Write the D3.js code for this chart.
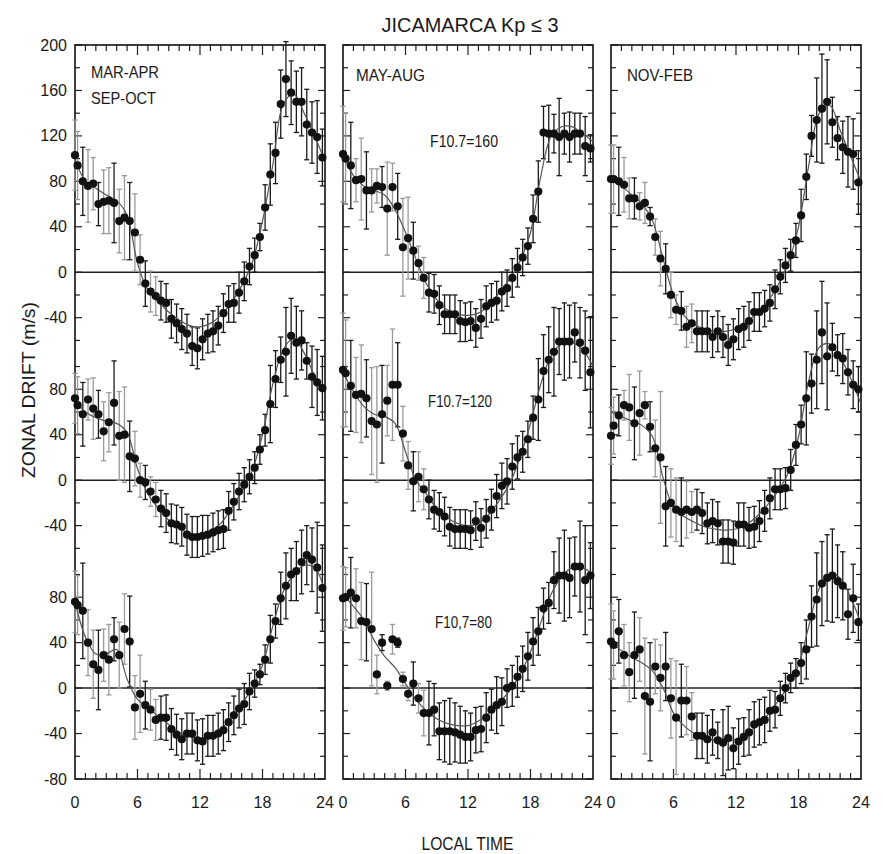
<!DOCTYPE html>
<html><head><meta charset="utf-8">
<script src="https://cdn.jsdelivr.net/npm/d3@7"></script>
<style>
body{margin:0;background:#fff}
text{font-family:"Liberation Sans",Arial,Helvetica,sans-serif;fill:#1a1a1a}
</style>
</head><body><svg id="c" width="883" height="854"></svg>
<script>
// ---------------- DATA ----------------
const hours = [0,0.25,0.75,1.25,1.75,2.25,2.75,3.25,3.75,4.25,4.75,5.25,5.75,6.25,6.75,7.25,7.75,8.25,8.75,9.25,9.75,10.25,10.75,11.25,11.75,12.25,12.75,13.25,13.75,14.25,14.75,15.25,15.75,16.25,16.75,17.25,17.75,18.25,18.75,19.25,19.75,20.25,20.75,21.25,21.75,22.25,22.75,23.25,23.75];
const fitHours = [0,1,2,3,4,5,6,7,8,9,10,11,12,13,14,15,16,17,18,19,20,21,22,23,24];
const seasons = ["MAR-APR","MAY-AUG","NOV-FEB"];
const fluxLabels = ["F10.7=160","F10.7=120","F10,7=80"];
const xTickLabels = [0,6,12,18,24];
const yTickLabelsRow = [[200,160,120,80,40,0,-40],[80,40,0,-40],[80,40,0,-40,-80]];

// MAR-APR / SEP-OCT
const marApr160 = [103,94,80,76,78,60,62,63,61, 45,48,45,35,11,-10,-17,-21, -25,-27,-41,-45,-50,-54,-65,-67, -59,-54,-52,-47,-36,-28,-27,-18, -8,5,15,31,57,86,105,148, 170,158,150,150,130,123,119,101];
const marApr160Err = [31,30,30,32,23,19,28,29,35, 28,37,34,34,22,20,18,17, 17,17,17,17,18,17,17,18, 18,17,18,17,17,16,17,18, 17,16,15,12,20,27,27,30, 33,28,27,30,31,27,32,25];
const marApr160Fit = [100,80,74,68,63,50,8,-16,-26,-35,-42,-47,-48,-45,-38,-27,-12,8,45,95,148,157,140,120,98];

const marApr120 = [72,66,58,71,63,58,43,51,68, 39,40,21,19,0,-2,-10,-17, -25,-29,-38,-39,-41,-48,-50,-50, -49,-48,-46,-44,-43,-27,-19,-10, -4,3,11,27,44,67,89,106, 113,127,121,123,105,91,86,81];
const marApr120Err = [22,25,28,18,27,21,26,26,37, 39,42,31,24,15,15,13,15, 16,17,17,17,17,18,18,18, 18,17,17,17,17,17,16,16, 15,15,14,13,14,34,25,20, 39,33,32,26,16,27,29,28];
const marApr120Fit = [70,60,55,52,50,42,10,-12,-25,-35,-42,-47,-48,-45,-38,-25,-10,8,40,85,115,125,112,92,78];

const marApr80 = [76,73,68,40,21,16,29,25,43, 29,52,41,-17,-5,-15,-19,-28, -26,-26,-36,-41,-45,-40,-40,-46, -47,-42,-42,-40,-37,-30,-24,-18, -14,-3,4,12,25,43,59,79, 90,100,103,111,117,113,106,88];
const marApr80Err = [27,26,42,29,30,35,23,31,19, 29,31,40,28,34,21,18,18, 19,20,18,18,18,18,18,18, 20,18,18,18,18,17,17,17, 18,16,12,9,13,21,15,23, 29,23,26,28,26,28,40,38];
const marApr80Fit = [76,45,30,30,34,8,-10,-17,-25,-32,-39,-43,-44,-42,-36,-26,-14,0,20,55,85,100,108,106,85];

// MAY-AUG
const mayAug160 = [104,100,94,81,82,72,72,76,75, 56,75,58,22,30,19,8,-5, -18,-19,-29,-37,-37,-37,-43,-44, -43,-49,-41,-30,-27,-25,-17,-14, -5,4,13,23,47,71,123,122, 122,119,122,119,122,122,111,109];
const mayAug160Err = [42,40,38,19,36,34,19,15,18, 41,21,29,43,36,25,15,18, 17,17,17,17,17,17,18,17, 17,17,17,18,17,17,17,16, 17,17,16,16,21,27,23,25, 17,34,18,22,18,18,26,12];
const mayAug160Fit = [104,85,76,72,68,55,35,12,-10,-24,-33,-37,-38,-36,-29,-18,-6,10,35,85,120,128,128,122,115];

const mayAug120 = [97,94,83,75,76,72,52,49,58, 70,84,84,41,13,-1,3,-8, -17,-26,-28,-32,-41,-43,-43,-43, -44,-36,-42,-34,-26,-14,-5,-1, 12,20,25,36,55,71,96,106, 113,122,122,122,130,121,114,95];
const mayAug120Err = [50,47,40,33,43,34,47,51,43, 31,49,37,24,21,26,22,18, 17,17,17,17,17,17,17,17, 17,17,17,17,18,19,20,20, 20,19,18,16,19,36,32,29, 39,29,34,32,26,31,35,49];
const mayAug120Fit = [95,78,65,58,56,50,25,0,-12,-25,-33,-38,-40,-38,-30,-18,-3,20,50,85,110,120,121,115,100];

const mayAug80 = [79,80,84,79,59,58,52,12,40, 2,43,40,8,-5,4,-9,-22, -22,-19,-38,-38,-38,-39,-41,-43, -43,-37,-36,-26,-19,-15,-12,0, 2,10,17,28,41,50,70,75, 95,99,99,97,107,107,95,99];
const mayAug80Err = [28,26,31,26,34,34,50,17,7, 4,13,4,6,6,19,13,20, 28,23,25,27,29,26,25,23, 21,20,20,22,18,25,21,17, 18,18,20,21,21,21,18,18, 25,33,40,35,26,40,48,29];
const mayAug80Fit = [82,72,60,42,28,18,4,-10,-20,-27,-31,-33,-33,-29,-22,-13,-2,12,32,58,83,98,106,106,100];

// NOV-FEB
const novFeb160 = [82,82,80,77,65,65,58,61,49, 31,12,3,-20,-33,-34,-48,-45, -52,-52,-52,-57,-52,-57,-64,-59, -50,-48,-43,-35,-35,-32,-27,-15, -4,6,15,28,50,84,120,134, 144,150,132,118,110,106,104,79];
const novFeb160Err = [30,30,30,24,18,18,12,18,8, 16,24,22,20,13,17,18,17, 18,18,18,18,18,18,18,18, 18,18,17,17,17,16,16,17, 15,15,14,15,23,20,18,37, 48,37,22,19,23,31,31,28];
const novFeb160Fit = [82,76,68,60,45,12,-20,-38,-46,-50,-52,-52,-50,-44,-36,-26,-12,8,40,95,140,147,125,102,80];

const novFeb120 = [39,48,57,66,64,50,59,66,47, 28,20,-23,-20,-26,-28,-26,-28, -26,-29,-38,-36,-38,-54,-54,-55, -39,-39,-42,-41,-36,-27,-16,-8, -8,-7,9,31,49,72,85,106, 130,109,117,110,107,95,84,80];
const novFeb120Err = [25,25,18,13,29,32,37,12,22, 25,58,35,30,28,30,25,18, 18,18,18,19,19,19,19,19, 19,19,18,18,18,18,18,18, 18,18,18,18,17,41,26,43, 45,47,21,18,22,20,21,20];
const novFeb120Fit = [60,56,52,48,38,2,-24,-32,-37,-41,-43,-44,-43,-39,-32,-22,-10,6,38,88,117,120,108,90,67];

const novFeb80 = [41,38,50,29,14,29,34,-7,-12, 19,9,19,-9,-26,-11,-11,-25, -42,-42,-45,-39,-46,-48,-44,-53, -47,-43,-39,-32,-30,-28,-20,-19, -9,0,9,13,22,34,63,78, 92,97,99,94,90,65,79,58];
const novFeb80Err = [33,30,28,27,26,38,28,51,52, 24,29,30,35,50,32,30,21, 20,20,21,20,16,29,28,18, 20,17,20,20,20,20,18,16, 15,13,13,13,18,26,27,41, 37,38,41,32,30,22,30,16];
const novFeb80Fit = [40,33,27,22,15,0,-22,-33,-40,-44,-46,-47,-45,-40,-33,-24,-12,2,20,55,88,100,97,80,57];

const series = [
  {p:0,r:0,v:marApr160,e:marApr160Err,f:marApr160Fit},
  {p:0,r:1,v:marApr120,e:marApr120Err,f:marApr120Fit},
  {p:0,r:2,v:marApr80,e:marApr80Err,f:marApr80Fit},
  {p:1,r:0,v:mayAug160,e:mayAug160Err,f:mayAug160Fit},
  {p:1,r:1,v:mayAug120,e:mayAug120Err,f:mayAug120Fit},
  {p:1,r:2,v:mayAug80,e:mayAug80Err,f:mayAug80Fit},
  {p:2,r:0,v:novFeb160,e:novFeb160Err,f:novFeb160Fit},
  {p:2,r:1,v:novFeb120,e:novFeb120Err,f:novFeb120Fit},
  {p:2,r:2,v:novFeb80,e:novFeb80Err,f:novFeb80Fit}
];

// ---------------- LAYOUT ----------------
const svg = d3.select("#c");
const panelLeft = [75, 343, 611];
const panelW = 250;
const topY = 45, bottomY = 779;
const SHIFT = 183; // vertical offset between stacked rows (m/s)
const y = d3.scaleLinear().domain([-80 - 2*SHIFT, 200]).range([bottomY, topY]);
const yr = (r, v) => y(v - r*SHIFT);
const xs = panelLeft.map(l => d3.scaleLinear().domain([0,24]).range([l, l+panelW]));

panelLeft.forEach((l, p) => {
  const g = svg.append("g");
  const x = xs[p];
  [0,1,2].forEach(r => {
    g.append("line").attr("x1", l).attr("x2", l+panelW)
      .attr("y1", yr(r,0)).attr("y2", yr(r,0))
      .attr("stroke","#222").attr("stroke-width",1.5);
  });
  d3.range(1,24).forEach(h => {
    const len = (h % 6 === 0) ? 10 : 6;
    g.append("line").attr("x1", x(h)).attr("x2", x(h)).attr("y1", bottomY).attr("y2", bottomY-len).attr("stroke","#222").attr("stroke-width",1.2);
    g.append("line").attr("x1", x(h)).attr("x2", x(h)).attr("y1", topY).attr("y2", topY+len).attr("stroke","#222").attr("stroke-width",1.2);
  });
  const ranges = [[-60,200],[-60,100],[-80,100]];
  ranges.forEach((rg, r) => {
    for (let v = rg[0]; v <= rg[1]; v += 20) {
      const major = yTickLabelsRow[r].includes(v);
      const len = major ? 7 : 5;
      const yy = yr(r, v);
      g.append("line").attr("x1", l).attr("x2", l+len).attr("y1", yy).attr("y2", yy).attr("stroke","#222").attr("stroke-width",1.2);
      g.append("line").attr("x1", l+panelW).attr("x2", l+panelW-len).attr("y1", yy).attr("y2", yy).attr("stroke","#222").attr("stroke-width",1.2);
    }
  });
  g.append("rect").attr("x", l).attr("y", topY).attr("width", panelW).attr("height", bottomY-topY)
    .attr("fill","none").attr("stroke","#111").attr("stroke-width",1.6);
  xTickLabels.forEach(t => {
    svg.append("text").attr("x", x(t)).attr("y", 808).attr("text-anchor","middle")
      .attr("font-size",16).text(t);
  });
});

yTickLabelsRow.forEach((labs, r) => {
  labs.forEach(v => {
    svg.append("text").attr("x", 67).attr("y", yr(r, v) + 5.5).attr("text-anchor","end")
      .attr("font-size",16).text(v);
  });
});

const line = d3.line().curve(d3.curveCatmullRom.alpha(0.5));
series.forEach(s => {
  const x = xs[s.p];
  const g = svg.append("g");
  hours.forEach((h, i) => {
    const gray = h < 8 && i % 3 !== 2;
    const col = gray ? "#9a9a9a" : "#1a1a1a";
    const y1 = yr(s.r, s.v[i] + s.e[i]), y2 = yr(s.r, s.v[i] - s.e[i]);
    const xx = x(h);
    g.append("line").attr("x1", xx).attr("x2", xx).attr("y1", y1).attr("y2", y2).attr("stroke", col).attr("stroke-width",1.3);
    g.append("line").attr("x1", xx-2.6).attr("x2", xx+2.6).attr("y1", y1).attr("y2", y1).attr("stroke", col).attr("stroke-width",1.3);
    g.append("line").attr("x1", xx-2.6).attr("x2", xx+2.6).attr("y1", y2).attr("y2", y2).attr("stroke", col).attr("stroke-width",1.3);
  });
  g.append("path").attr("d", line(fitHours.map((h,i) => [x(h), yr(s.r, s.f[i])])))
    .attr("fill","none").attr("stroke","#555").attr("stroke-width",1.2);
  g.selectAll("circle").data(hours).join("circle")
    .attr("cx", h => x(h)).attr("cy", (h,i) => yr(s.r, s.v[i])).attr("r", 4.1).attr("fill","#111");
});

svg.append("text").attr("x", 470).attr("y", 32).attr("text-anchor","middle").attr("font-size",21)
  .attr("textLength",177).attr("lengthAdjust","spacingAndGlyphs").text("JICAMARCA  Kp \u2264 3");
svg.append("text").attr("transform","translate(35,390) rotate(-90)").attr("text-anchor","middle")
  .attr("font-size",17.5).attr("textLength",176).attr("lengthAdjust","spacingAndGlyphs").text("ZONAL DRIFT (m/s)");
svg.append("text").attr("x", 467.5).attr("y", 850).attr("text-anchor","middle").attr("font-size",18)
  .attr("textLength",92).attr("lengthAdjust","spacingAndGlyphs").text("LOCAL TIME");

const seasonPos = [[91,78,68],[356,80.5,69],[627,80.5,66]];
seasons.forEach((s,i) => {
  svg.append("text").attr("x", seasonPos[i][0]).attr("y", seasonPos[i][1]).attr("font-size",17)
    .attr("textLength",seasonPos[i][2]).attr("lengthAdjust","spacingAndGlyphs").text(s);
});
svg.append("text").attr("x", 91).attr("y", 104).attr("font-size",17)
  .attr("textLength",65).attr("lengthAdjust","spacingAndGlyphs").text("SEP-OCT");

const fluxPos = [[430,147,68],[428,407,64],[435,628,57]];
fluxLabels.forEach((s,i) => {
  svg.append("text").attr("x", fluxPos[i][0]).attr("y", fluxPos[i][1]).attr("font-size",16.5)
    .attr("textLength",fluxPos[i][2]).attr("lengthAdjust","spacingAndGlyphs").text(s);
});
</script>
</body></html>
